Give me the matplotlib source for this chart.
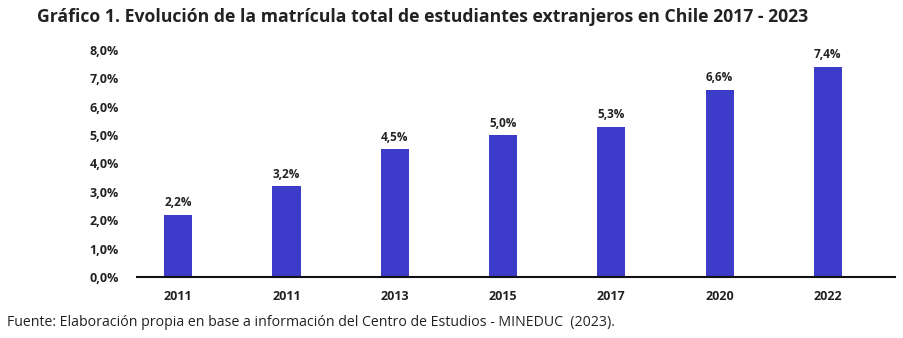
import matplotlib
matplotlib.use("Agg")
import matplotlib.pyplot as plt

categories = ["2011", "2011", "2013", "2015", "2017", "2020", "2022"]
values = [2.2, 3.2, 4.5, 5.0, 5.3, 6.6, 7.4]
value_labels = ["2,2%", "3,2%", "4,5%", "5,0%", "5,3%", "6,6%", "7,4%"]
yticks = [0, 1, 2, 3, 4, 5, 6, 7, 8]
ytick_labels = ["0,0%", "1,0%", "2,0%", "3,0%", "4,0%", "5,0%", "6,0%", "7,0%", "8,0%"]

title = "Gráfico 1. Evolución de la matrícula total de estudiantes extranjeros en Chile 2017 - 2023"
source = "Fuente: Elaboración propia en base a información del Centro de Estudios - MINEDUC  (2023)."

FONT = ["Open Sans", "DejaVu Sans"]
plt.rcParams["font.family"] = FONT

fig = plt.figure(figsize=(9.04, 3.38), dpi=100)
ax = fig.add_axes([137/904, 1-277/338, (895-137)/904, (277-50)/338])

x = list(range(len(categories)))
bars = ax.bar(x, values, width=0.26, color="#3D3BC9")
for xi, v, lab in zip(x, values, value_labels):
    ax.annotate(lab, (xi, v), xytext=(0, 4), textcoords="offset points",
                ha="center", va="bottom", fontsize=8.5, fontweight="bold",
                color="#222222", annotation_clip=False)

ax.set_xlim(-0.38, 6.62)
ax.set_ylim(0, 8)
ax.set_yticks(yticks)
ax.set_yticklabels(ytick_labels)
ax.set_xticks(x)
ax.set_xticklabels(categories)
ax.tick_params(axis="both", length=0, labelsize=9, colors="#222222")
ax.tick_params(axis="y", pad=13)
ax.tick_params(axis="x", pad=9)
for lab in ax.get_yticklabels() + ax.get_xticklabels():
    lab.set_fontweight("bold")
for s in ["top", "right", "left"]:
    ax.spines[s].set_visible(False)
ax.spines["bottom"].set_linewidth(1.5)
ax.spines["bottom"].set_color("#111111")

fig.text(37/904, 1-17/338, title, fontsize=12.7, fontweight="bold", color="#222222",
         ha="left", va="center")
fig.text(7/904, 1-322/338, source, fontsize=10.2, color="#222222", ha="left", va="center")

fig.savefig("out.png", dpi=100)
